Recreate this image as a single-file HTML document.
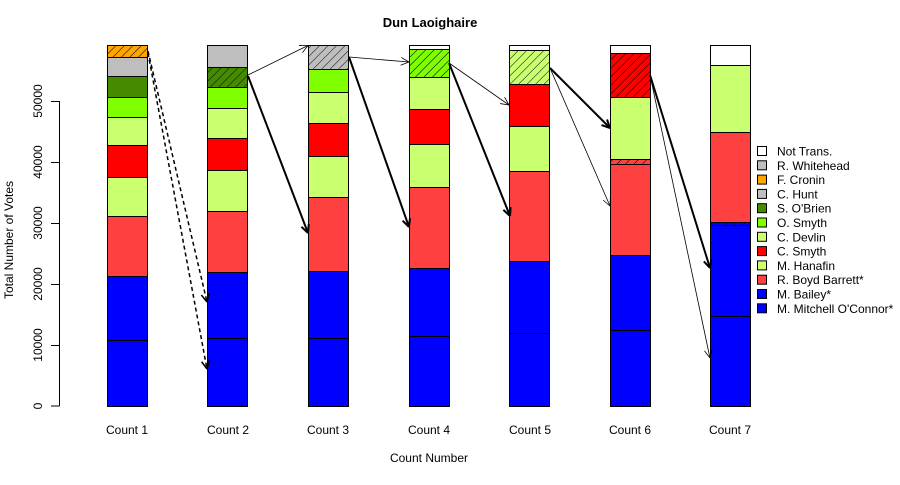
<!DOCTYPE html>
<html><head><meta charset="utf-8"><style>
html,body{margin:0;padding:0;background:#fff;}
svg text{font-family:"Liberation Sans",Arial,sans-serif;font-size:12px;fill:#000;}
</style></head><body>
<svg id="s" width="900" height="480" xmlns="http://www.w3.org/2000/svg">
<defs>
<pattern id="hOr" width="6" height="6" patternUnits="userSpaceOnUse" patternTransform="rotate(45)"><rect width="6" height="6" fill="#FFA500"/><line x1="0" y1="0" x2="0" y2="6" stroke="#000" stroke-width="1"/></pattern>
<pattern id="hDg" width="6" height="6" patternUnits="userSpaceOnUse" patternTransform="rotate(45)"><rect width="6" height="6" fill="#458B00"/><line x1="0" y1="0" x2="0" y2="6" stroke="#000" stroke-width="1"/></pattern>
<pattern id="hGr" width="6" height="6" patternUnits="userSpaceOnUse" patternTransform="rotate(45)"><rect width="6" height="6" fill="#BEBEBE"/><line x1="0" y1="0" x2="0" y2="6" stroke="#000" stroke-width="1"/></pattern>
<pattern id="hG" width="6" height="6" patternUnits="userSpaceOnUse" patternTransform="rotate(45)"><rect width="6" height="6" fill="#7FFF00"/><line x1="0" y1="0" x2="0" y2="6" stroke="#000" stroke-width="1"/></pattern>
<pattern id="hLg" width="6" height="6" patternUnits="userSpaceOnUse" patternTransform="rotate(45)"><rect width="6" height="6" fill="#CAFF70"/><line x1="0" y1="0" x2="0" y2="6" stroke="#000" stroke-width="1"/></pattern>
<pattern id="hR" width="6" height="6" patternUnits="userSpaceOnUse" patternTransform="rotate(45)"><rect width="6" height="6" fill="#FF0000"/><line x1="0" y1="0" x2="0" y2="6" stroke="#000" stroke-width="1"/></pattern>
<pattern id="hP" width="6" height="6" patternUnits="userSpaceOnUse" patternTransform="rotate(45)"><rect width="6" height="6" fill="#FF4040"/><line x1="0" y1="0" x2="0" y2="6" stroke="#000" stroke-width="1"/></pattern>
<pattern id="hB" width="6" height="6" patternUnits="userSpaceOnUse" patternTransform="rotate(45)"><rect width="6" height="6" fill="#0000FF"/><line x1="0" y1="0" x2="0" y2="6" stroke="#000" stroke-width="1"/></pattern>
</defs>
<text x="430" y="27" text-anchor="middle" style="font-weight:bold;font-size:13px">Dun Laoighaire</text>
<g id="bars" stroke="#000" stroke-width="1"></g>
<g id="arr" fill="none" stroke="#000"></g>
<!-- axis -->
<g stroke="#000" stroke-width="1">
<line x1="59.5" y1="101" x2="59.5" y2="406"/>
<line x1="51" y1="101.5" x2="59.5" y2="101.5"/>
<line x1="51" y1="162.5" x2="59.5" y2="162.5"/>
<line x1="51" y1="223.5" x2="59.5" y2="223.5"/>
<line x1="51" y1="284.5" x2="59.5" y2="284.5"/>
<line x1="51" y1="345.5" x2="59.5" y2="345.5"/>
<line x1="51" y1="406" x2="59.5" y2="406"/>
</g>
<g>
<text transform="translate(42,101) rotate(-90)" text-anchor="middle">50000</text>
<text transform="translate(42,162) rotate(-90)" text-anchor="middle">40000</text>
<text transform="translate(42,223) rotate(-90)" text-anchor="middle">30000</text>
<text transform="translate(42,284) rotate(-90)" text-anchor="middle">20000</text>
<text transform="translate(42,345) rotate(-90)" text-anchor="middle">10000</text>
<text transform="translate(42,406) rotate(-90)" text-anchor="middle">0</text>
<text transform="translate(13,240) rotate(-90)" text-anchor="middle">Total Number of Votes</text>
</g>
<g text-anchor="middle">
<text x="127" y="434">Count 1</text><text x="228" y="434">Count 2</text><text x="328" y="434">Count 3</text>
<text x="429" y="434">Count 4</text><text x="530" y="434">Count 5</text><text x="630" y="434">Count 6</text>
<text x="730" y="434">Count 7</text>
<text x="429" y="462">Count Number</text>
</g>
<g id="leg" stroke="#000"></g>
</svg>
<script>
var NS="http://www.w3.org/2000/svg";
function el(p,t,a){var e=document.createElementNS(NS,t);for(var k in a)e.setAttribute(k,a[k]);document.getElementById(p).appendChild(e);return e;}
var B="#0000FF",P="#FF4040",R="#FF0000",L="#CAFF70",G="#7FFF00",D="#458B00",Y="#BEBEBE",O="#FFA500",W="#FFFFFF";
var bars=[
[107.5,[[45,57,"url(#hOr)"],[57,76,Y],[76,97,D],[97,117,G],[117,145,L],[145,177,R],[177,216,L],[216,276,P],[276,340,B],[340,406,B]]],
[207.5,[[45,67,Y],[67,87,"url(#hDg)"],[87,108,G],[108,138,L],[138,170,R],[170,211,L],[211,272,P],[272,338,B],[338,406,B]]],
[308.5,[[45,69,"url(#hGr)"],[69,92,G],[92,123,L],[123,156,R],[156,197,L],[197,271,P],[271,338,B],[338,406,B]]],
[409.5,[[45,49,W],[49,77,"url(#hG)"],[77,109,L],[109,144,R],[144,187,L],[187,268,P],[268,336,B],[336,406,B]]],
[509.5,[[45,50,W],[50,84,"url(#hLg)"],[84,126,R],[126,171,L],[171,261,P],[261,333,B],[333,406,B]]],
[610.5,[[45,53,W],[53,97,"url(#hR)"],[97,159,L],[159,164,"url(#hP)"],[164,255,P],[255,330,B],[330,406,B]]],
[710.5,[[45,65,W],[65,132,L],[132,222,P],[222,225,"url(#hB)"],[225,316,B],[316,406,B]]]];
bars.forEach(function(b){b[1].forEach(function(s){el("bars","rect",{x:b[0],y:s[0]+0.5,width:40,height:s[1]-s[0],fill:s[2]});});});
function arrow(x1,y1,x2,y2,w,dash){
 var a={x1:x1,y1:y1,x2:x2,y2:y2,"stroke-width":w};if(dash)a["stroke-dasharray"]="4,3";
 el("arr","line",a);
 var ang=Math.atan2(y2-y1,x2-x1),l=9;
 [0.45,-0.45].forEach(function(d){el("arr","line",{x1:x2,y1:y2,x2:x2-l*Math.cos(ang+d),y2:y2-l*Math.sin(ang+d),"stroke-width":w});});
}
arrow(148,51,207,302,1.5,true);arrow(148,53,207,369,1.5,true);
arrow(248,75,308,45.5,0.8);arrow(248,76,308,233,2);
arrow(349,57,409,62,0.8);arrow(349,57,409,227,2);
arrow(449,63,509,105,0.8);arrow(449,63,510,216,2);
arrow(550,68,610,128,2);arrow(550,68,610,206,0.8);
arrow(650,75,710,268,2);arrow(650,75,710,358,0.8);
var lg=[[W,"Not Trans."],[Y,"R. Whitehead"],[O,"F. Cronin"],[Y,"C. Hunt"],[D,"S. O'Brien"],[G,"O. Smyth"],[L,"C. Devlin"],[R,"C. Smyth"],[L,"M. Hanafin"],[P,"R. Boyd Barrett*"],[B,"M. Bailey*"],[B,"M. Mitchell O'Connor*"]];
lg.forEach(function(r,i){var y=151+i*14.3;el("leg","rect",{x:757.5,y:y-4.5,width:9,height:9,fill:r[0]});
 var t=el("leg","text",{x:777,y:y+4.5,stroke:"none"});t.textContent=r[1];});
</script>
</body></html>
